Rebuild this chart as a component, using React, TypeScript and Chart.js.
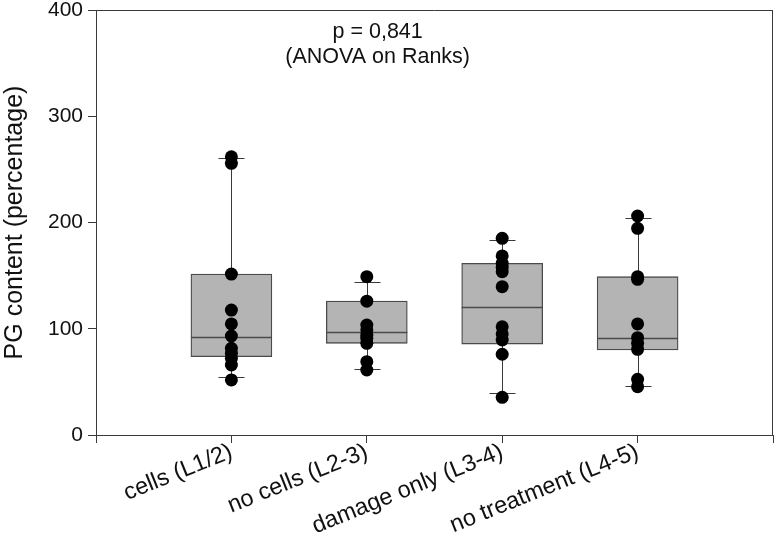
import React, { useEffect, useRef } from "react";
import { Chart, registerables } from "chart.js";

Chart.register(...registerables);

const categories = ["cells (L1/2)", "no cells (L2-3)", "damage only (L3-4)", "no treatment (L4-5)"];
const positions = [1, 2, 3, 4];

const pointsCells = [261.9, 255.7, 151.5, 117.6, 104.5, 93.2, 81.6, 76.9, 72.2, 65.9, 51.8];
const pointsNoCells = [149, 126, 103.5, 99, 94, 91, 86.3, 69, 61.2];
const pointsDamage = [185.1, 168.5, 161.6, 157.8, 153.7, 139.6, 101.9, 95.1, 89.4, 76, 35.5];
const pointsNoTreat = [206.1, 194.5, 149, 146.5, 104.5, 91.6, 86.3, 80.6, 52.4, 45.5];

const q1 = [73.7, 86.3, 85.6, 80];
const median = [92.5, 97.3, 120.2, 91];
const q3 = [151.5, 126.1, 161.6, 149];
const whiskerLow = [54.3, 62.1, 39.8, 46.1];
const whiskerHigh = [260.4, 143.7, 183.5, 204];

const yTicks = [0, 100, 200, 300, 400];
const xTicks = [0, 1, 2, 3, 4, 5];
const annotationLines = ["p = 0,841", "(ANOVA on Ranks)"];

const FONT = "'Liberation Sans', Arial, Helvetica, sans-serif";

export default function App() {
  const ref = useRef<HTMLCanvasElement | null>(null);

  useEffect(() => {
    if (!ref.current) return;
    const groups = [pointsCells, pointsNoCells, pointsDamage, pointsNoTreat];
    const scatterData: { x: number; y: number }[] = [];
    groups.forEach((g, i) => g.forEach((v) => scatterData.push({ x: positions[i], y: v })));
    const boxData = positions.map((p, i) => ({ x: p, y: [q1[i], q3[i]] }));

    const boxPlugin = {
      id: "boxExtras",
      beforeDatasetsDraw(chart: any) {
        const ctx = chart.ctx;
        const xs = chart.scales.x;
        const ys = chart.scales.y;
        ctx.save();
        ctx.strokeStyle = "#3a3a3a";
        ctx.lineWidth = 1;
        positions.forEach((p, i) => {
          const cx = Math.round(xs.getPixelForValue(p)) + 0.5;
          const yl = ys.getPixelForValue(whiskerLow[i]);
          const yh = ys.getPixelForValue(whiskerHigh[i]);
          ctx.beginPath();
          ctx.moveTo(cx, yl);
          ctx.lineTo(cx, yh);
          ctx.moveTo(cx - 13, Math.round(yl) + 0.5);
          ctx.lineTo(cx + 13, Math.round(yl) + 0.5);
          ctx.moveTo(cx - 13, Math.round(yh) + 0.5);
          ctx.lineTo(cx + 13, Math.round(yh) + 0.5);
          ctx.stroke();
        });
        ctx.restore();
      },
      afterDatasetDraw(chart: any, args: any) {
        if (args.index !== 1) return;
        const ctx = chart.ctx;
        const xs = chart.scales.x;
        const ys = chart.scales.y;
        ctx.save();
        ctx.strokeStyle = "#4a4a4a";
        ctx.lineWidth = 1.3;
        positions.forEach((p, i) => {
          const cx = xs.getPixelForValue(p);
          const ym = Math.round(ys.getPixelForValue(median[i])) + 0.5;
          ctx.beginPath();
          ctx.moveTo(cx - 40.5, ym);
          ctx.lineTo(cx + 40.5, ym);
          ctx.stroke();
        });
        ctx.restore();
      },
      afterDraw(chart: any) {
        const ctx = chart.ctx;
        const a = chart.chartArea;
        const xs = chart.scales.x;
        ctx.save();
        ctx.strokeStyle = "#3a3a3a";
        ctx.lineWidth = 1;
        ctx.beginPath();
        ctx.moveTo(a.left, Math.round(a.top) + 0.5);
        ctx.lineTo(a.right, Math.round(a.top) + 0.5);
        ctx.moveTo(Math.round(a.right) - 0.5, a.top);
        ctx.lineTo(Math.round(a.right) - 0.5, a.bottom);
        ctx.stroke();
        ctx.fillStyle = "#111";
        ctx.font = `21.5px ${FONT}`;
        ctx.textAlign = "center";
        ctx.textBaseline = "alphabetic";
        const cx = xs.getPixelForValue(2.08);
        ctx.fillText(annotationLines[0], cx, a.top + 28);
        ctx.fillText(annotationLines[1], cx, a.top + 53);
        ctx.restore();
      },
    };

    const chart = new Chart(ref.current, {
      type: "bar",
      data: {
        datasets: [
          {
            type: "scatter",
            data: scatterData,
            backgroundColor: "#000",
            borderColor: "#000",
            pointRadius: 6.5,
            pointHoverRadius: 6.5,
            borderWidth: 0,
          } as any,
          {
            type: "bar",
            data: boxData as any,
            backgroundColor: "#b4b4b4",
            borderColor: "#4a4a4a",
            borderWidth: 1.3,
            borderSkipped: false,
            barThickness: 81,
          } as any,
        ],
      },
      plugins: [boxPlugin],
      options: {
        animation: false,
        responsive: false,
        maintainAspectRatio: false,
        events: [],
        layout: { autoPadding: false, padding: { top: 10, right: 2, left: 0, bottom: 0 } },
        plugins: { legend: { display: false }, tooltip: { enabled: false } },
        scales: {
          x: {
            type: "linear",
            min: 0,
            max: 5,
            offset: false,
            afterBuildTicks: (s: any) => {
              s.ticks = xTicks.map((v) => ({ value: v }));
            },
            afterFit: (s: any) => {
              s.height = 102;
              s.paddingLeft = 0;
              s.paddingRight = 0;
            },
            ticks: {
              autoSkip: false,
              minRotation: 22,
              maxRotation: 22,
              padding: -5,
              color: "#111",
              font: { family: FONT, size: 23.5 },
              callback: (v: any) => {
                const i = positions.indexOf(Number(v));
                return i >= 0 ? categories[i] : "";
              },
            },
            grid: { offset: false, drawOnChartArea: false, drawTicks: true, tickLength: 8, tickColor: "#3a3a3a", tickWidth: 1 },
            border: { display: true, color: "#3a3a3a", width: 1 },
          },
          y: {
            type: "linear",
            min: 0,
            max: 400,
            afterBuildTicks: (s: any) => {
              s.ticks = yTicks.map((v) => ({ value: v }));
            },
            afterFit: (s: any) => {
              s.width = 96;
              s.paddingTop = 0;
              s.paddingBottom = 0;
            },
            ticks: {
              padding: 5,
              color: "#111",
              font: { family: FONT, size: 21 },
            },
            grid: { drawOnChartArea: false, drawTicks: true, tickLength: 8, tickColor: "#3a3a3a", tickWidth: 1 },
            border: { display: true, color: "#3a3a3a", width: 1 },
            title: {
              display: true,
              text: "PG content (percentage)",
              color: "#111",
              font: { family: FONT, size: 25 },
              padding: { top: 0, bottom: 2 },
            },
          },
        },
      },
    });
    return () => chart.destroy();
  }, []);

  return (
    <div style={{ position: "fixed", left: 0, top: 0, width: 775, height: 537, background: "#fff" }}>
      <canvas ref={ref} width={775} height={537} style={{ width: 775, height: 537, display: "block" }} />
    </div>
  );
}
